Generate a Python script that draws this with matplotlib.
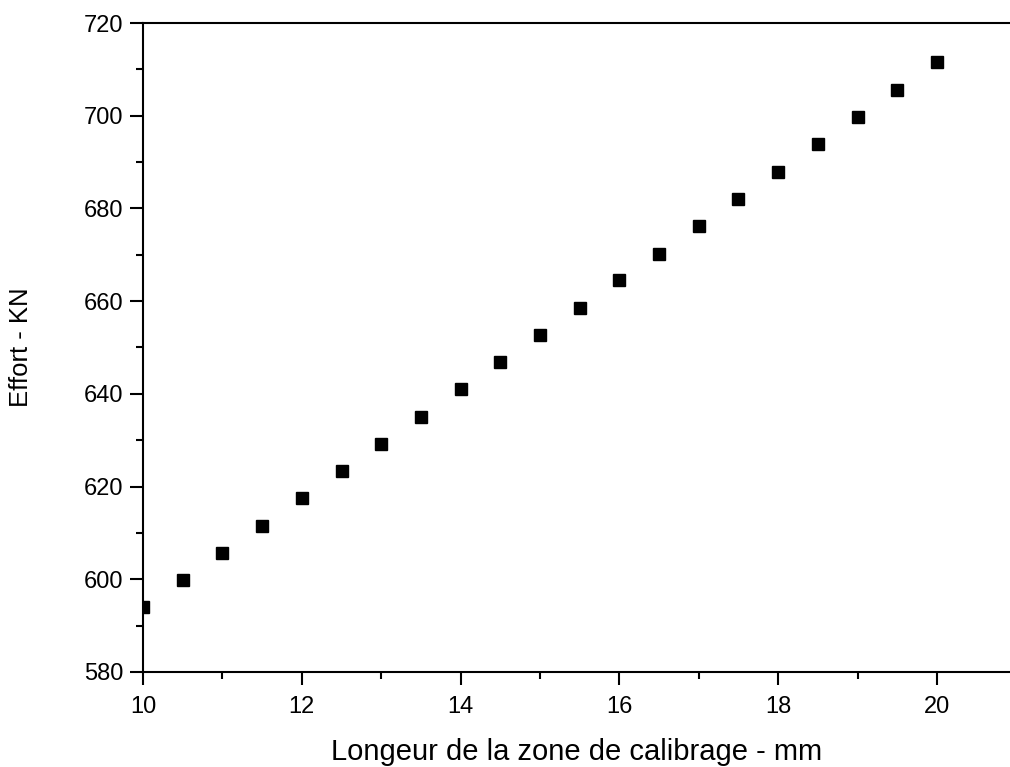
import matplotlib
matplotlib.use('Agg')
import matplotlib.pyplot as plt
from matplotlib.ticker import MultipleLocator

plt.rcParams['font.family'] = ['Liberation Sans', 'DejaVu Sans']

# longueur de calibrage (mm) et effort mesure (kN)
longueur = [10, 10.5, 11, 11.5, 12, 12.5, 13, 13.5, 14, 14.5, 15,
            15.5, 16, 16.5, 17, 17.5, 18, 18.5, 19, 19.5, 20]
effort = [594.0, 599.9, 605.7, 611.5, 617.5, 623.4, 629.2, 635.0, 641.1, 646.9, 652.7,
          658.5, 664.6, 670.2, 676.2, 682.0, 687.9, 693.9, 699.7, 705.5, 711.6]

fig = plt.figure(figsize=(10.10, 7.67), dpi=100)
ax = fig.add_axes([0.1416, 0.1239, 0.8584, 0.8461])

ax.plot(longueur, effort, 's', color='black', markersize=8.6, clip_on=True)

ax.set_xlim(10, 20.92)
ax.set_ylim(580, 720)
ax.xaxis.set_major_locator(MultipleLocator(2))
ax.xaxis.set_minor_locator(MultipleLocator(1))
ax.yaxis.set_major_locator(MultipleLocator(20))
ax.yaxis.set_minor_locator(MultipleLocator(10))

ax.spines['right'].set_visible(False)
for s in ['left', 'bottom', 'top']:
    ax.spines[s].set_linewidth(1.5)

ax.tick_params(which='major', direction='out', length=9.4, width=1.5, labelsize=17, pad=5)
ax.tick_params(axis='x', which='major', pad=8)
ax.tick_params(which='minor', direction='out', length=5, width=1.5)

ax.set_xlabel('Longeur de la zone de calibrage - mm', fontsize=21, labelpad=14)
ax.set_ylabel('Effort - KN', fontsize=18.5, labelpad=36)

fig.savefig('out.png', dpi=100)
